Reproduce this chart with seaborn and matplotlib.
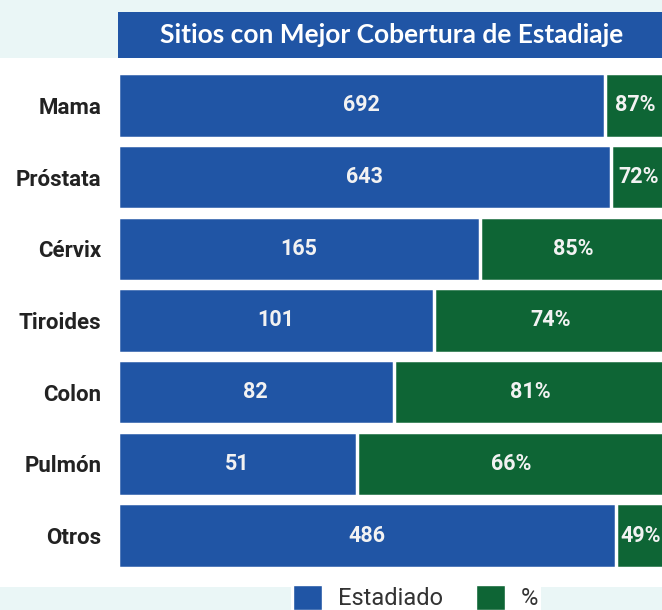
import pandas as pd
import matplotlib.pyplot as plt
from matplotlib.patches import Patch, Rectangle
import seaborn as sns

# Data
sitios = ['Mama', 'Próstata', 'Cérvix', 'Tiroides', 'Colon', 'Pulmón', 'Otros']
estadiado = [692, 643, 165, 101, 82, 51, 486]
porcentaje = [87, 72, 85, 74, 81, 66, 49]

df = pd.DataFrame({'sitio': sitios, 'estadiado': estadiado, 'pct': porcentaje})
# 100% stacked: each row normalised to its own total
df['total'] = df['estadiado'] + df['pct']
df['frac_est'] = df['estadiado'] / df['total']
df['frac_tot'] = 1.0

azul = '#2055A5'
verde = '#0E6535'

sns.set_style('white')
plt.rcParams['font.family'] = ['Roboto', 'DejaVu Sans']

W, H = 662, 610
fig = plt.figure(figsize=(W / 100, H / 100), dpi=100, facecolor='#EAF6F6')

# white panel behind the bars
fig.add_artist(Rectangle((0, 1 - 587 / H), 1, (587 - 58) / H, transform=fig.transFigure,
                         facecolor='white', edgecolor='none', zorder=0))

# title box
fig.add_artist(Rectangle((118 / W, 1 - 58 / H), (666 - 118) / W, (58 - 12) / H,
                         transform=fig.transFigure, facecolor=azul, edgecolor='none', zorder=1))
fig.text((118 + 666) / 2 / W, 1 - 35 / H, 'Sitios con Mejor Cobertura de Estadiaje',
         ha='center', va='center', color='white', fontsize=19, fontweight='bold',
         family=['Lato', 'DejaVu Sans'])

ax = fig.add_axes([118 / W, 1 - 571.5 / H, (666 - 118) / W, (571.5 - 69.5) / H])
ax.set_facecolor('none')

sns.barplot(data=df, y='sitio', x='frac_tot', orient='h', color=verde, width=0.9,
            edgecolor='white', linewidth=2.5, saturation=1, ax=ax)
sns.barplot(data=df, y='sitio', x='frac_est', orient='h', color=azul, width=0.9,
            edgecolor='white', linewidth=2.5, saturation=1, ax=ax)

# labels: green segment centred in the remainder, blue in the blue part
verdes = ax.containers[0]
azules = ax.containers[1]
for rv, ra, n, p in zip(verdes, azules, estadiado, porcentaje):
    y = ra.get_y() + ra.get_height() / 2
    xa = ra.get_width() / 2
    xv = ra.get_width() + (rv.get_width() - ra.get_width()) / 2
    ax.text(xa, y, str(n), ha='center', va='center', color='#F2F2F2',
            fontsize=15.5, fontweight='bold')
    ax.text(xv, y, f'{p}%', ha='center', va='center', color='#F2F2F2',
            fontsize=15.5, fontweight='bold')

ax.set_xlim(0, 1)
ax.set_ylim(6.5, -0.5)
ax.set_xlabel('')
ax.set_ylabel('')
ax.set_xticks([])
ax.tick_params(axis='y', length=0, pad=12)
for lab in ax.get_yticklabels():
    lab.set_fontsize(16)
    lab.set_fontweight('bold')
    lab.set_color('#222222')
sns.despine(ax=ax, left=True, bottom=True)

handles = [Patch(facecolor=azul, label='Estadiado'), Patch(facecolor=verde, label='%')]
leg = fig.legend(handles=handles, loc='upper center', bbox_to_anchor=(416 / W, 1 - 583 / H),
                 ncol=2, frameon=True, fancybox=False, facecolor='white', edgecolor='none',
                 fontsize=17, handlelength=1.2, handleheight=1.2, columnspacing=1.4,
                 handletextpad=0.7, borderaxespad=0, borderpad=0.1, framealpha=1)
for t in leg.get_texts():
    t.set_color('#333333')

fig.savefig('out.png', dpi=100, facecolor=fig.get_facecolor())
